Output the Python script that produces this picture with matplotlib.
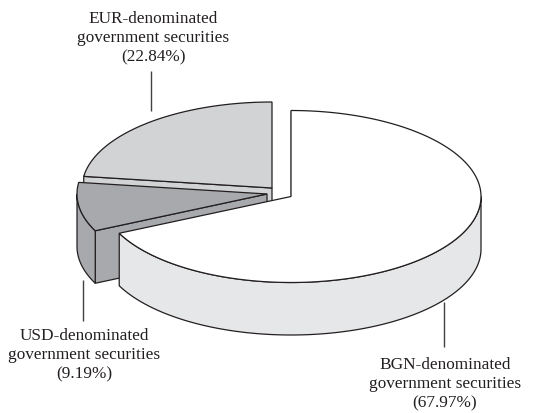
import numpy as np
import matplotlib
matplotlib.use("Agg")
import matplotlib.pyplot as plt
from matplotlib.patches import Polygon

categories = ["BGN", "USD", "EUR"]
shares = [67.97, 9.19, 22.84]
top_colors = ["#ffffff", "#a7a9ac", "#d1d3d4"]
side_colors = ["#e6e7e8", "#a7a9ac", "#d1d3d4"]
label_centers = [(445, 384), (84, 355), (153, 38)]
leader_lines = [(443.5, 303, 348), (83, 281, 322), (151, 72, 112)]
# pixel offset of each exploded slice
offsets = [(0, 0), (-24, -2.5), (-19, -8.5)]

CX, CY, RX, RY, DEPTH = 291, 197.5, 190, 86, 52.5
INK = "#231f20"

fig = plt.figure(figsize=(5.36, 4.14), dpi=100)
ax = fig.add_axes([0, 0, 1, 1])
ax.set_xlim(0, 536)
ax.set_ylim(414, 0)
ax.axis("off")


def rim(cx, cy, a0, a1, drop=0.0):
    t = np.radians(np.linspace(a0, a1, 200))
    return np.column_stack([cx + RX * np.cos(t), cy - RY * np.sin(t) + drop])


def poly(points, face, z):
    ax.add_patch(Polygon(points, closed=True, facecolor=face, edgecolor=INK,
                         linewidth=0.9, joinstyle="miter", zorder=z))


# Slices run clockwise from 12 o'clock: each spans lo..hi degrees, hi > lo.
ends = 90 - np.cumsum(shares) * 3.6
starts = np.concatenate([[90], ends[:-1]])

# Back-to-front painting: EUR, USD, BGN
for z, i in enumerate([2, 1, 0]):
    cx, cy = CX + offsets[i][0], CY + offsets[i][1]
    hi, lo = starts[i], ends[i]
    base = z * 10
    # cut face on the counter-clockwise end of the slice
    p = rim(cx, cy, hi, hi)[0]
    poly([(cx, cy), p, (p[0], p[1] + DEPTH), (cx, cy + DEPTH)], side_colors[i], base)
    # outer wall: only the part facing the viewer (-180..0 degrees)
    wall_hi, wall_lo = min(hi, 0), max(lo, -180)
    if wall_hi > wall_lo:
        top = rim(cx, cy, wall_lo, wall_hi)
        bottom = rim(cx, cy, wall_lo, wall_hi, DEPTH)[::-1]
        poly(np.vstack([top, bottom]), side_colors[i], base + 1)
    # top face
    poly(np.vstack([[(cx, cy)], rim(cx, cy, lo, hi)]), top_colors[i], base + 2)

# Labels and leader lines
for name, share, (tx, ty), (lx, y0, y1) in zip(categories, shares, label_centers, leader_lines):
    ax.plot([lx, lx], [y0, y1], color="#414042", lw=1.0, zorder=50, solid_capstyle="butt")
    ax.text(tx, ty, f"{name}-denominated\ngovernment securities\n({share:.2f}%)",
            ha="center", va="center", multialignment="center",
            family="Liberation Serif", fontsize=12.4, color=INK, linespacing=1.29, zorder=60)

fig.savefig("out.png", dpi=100)
